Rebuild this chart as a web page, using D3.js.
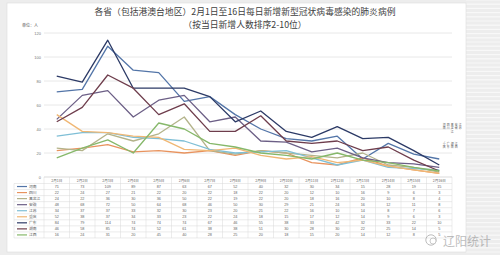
<!DOCTYPE html>
<html><head><meta charset="utf-8">
<script src="https://cdn.jsdelivr.net/npm/d3@7/dist/d3.min.js"></script>
<style>body{margin:0;background:#fff}svg{display:block}</style>
</head><body>
<script>
// ---- data ----
const dates = ["2月1日","2月2日","2月3日","2月4日","2月5日","2月6日","2月7日","2月8日","2月9日","2月10日","2月11日","2月12日","2月13日","2月14日","2月15日","2月16日"];
const seriesNames = ["河南","四川","黑龙江","安徽","江苏","重庆","广东","湖南","江西"];
const henan   = [71,73,109,89,87,63,67,52,40,32,30,34,15,28,19,15];
const sichuan = [22,24,27,21,22,20,22,18,22,20,12,10,16,9,6,3];
const hlj     = [24,22,36,30,36,50,22,19,22,20,18,16,20,10,8,4];
const anhui   = [48,68,72,50,64,68,46,50,30,29,21,24,16,12,11,8];
const jiangsu = [34,37,37,33,32,30,23,20,21,22,16,10,14,8,7,6];
const chongq  = [52,38,37,34,33,23,22,24,18,15,17,12,14,9,6,3];
const guangd  = [84,79,114,74,74,74,67,46,55,38,33,42,32,33,22,10];
const hunan   = [46,58,85,74,52,61,38,38,51,30,28,30,22,25,14,5];
const jiangxi = [16,24,31,20,45,40,28,25,20,18,15,20,14,12,8,5];
const seriesValues = [henan,sichuan,hlj,anhui,jiangsu,chongq,guangd,hunan,jiangxi];
const seriesColors = ["#5375a8","#e8935e","#b3b38a","#6c5f86","#7fbfd6","#f0b774","#2c3a66","#6e3d4c","#86b86a"];
const yTicks = [0,20,40,60,80,100,120];
const titleLines = ["各省（包括港澳台地区）2月1日至16日每日新增新型冠状病毒感染的肺炎病例","（按当日新增人数排序2-10位）"];
const unitLabel = "单位：人";
const watermark = "辽阳统计";

// ---- drawing ----
const W=500,H=255;
const svg=d3.select("body").append("svg").attr("width",W).attr("height",H);
svg.append("rect").attr("width",W).attr("height",H).attr("fill","#ededed");
const stripes=d3.range(0,H,4.2);
svg.selectAll("line.strip").data(stripes).enter().append("line")
  .attr("x1",466).attr("x2",W).attr("y1",d=>d).attr("y2",d=>d)
  .attr("stroke","#f8f8f8").attr("stroke-width",1.2);
svg.append("rect").attr("x",7).attr("y",3).attr("width",459).attr("height",249)
  .attr("fill","#fff").attr("stroke","#dcdcdc").attr("stroke-width",0.6);

const x=d3.scaleBand().domain(dates).range([44,452]);
const bw=x.bandwidth();
const cx=d=>x(d)+bw/2;
const y=d3.scaleLinear().domain([0,120]).range([177,33]);

// title
svg.selectAll("text.title").data(titleLines).enter().append("text")
  .attr("x",245).attr("y",(d,i)=>15+i*12.5).attr("text-anchor","middle")
  .attr("font-family","Noto Sans CJK SC").attr("font-size",8.8).attr("fill","#404040")
  .text(d=>d);
svg.append("text").attr("x",22).attr("y",26.5).attr("font-family","Noto Sans CJK SC")
  .attr("font-size",4).attr("fill","#555").text(unitLabel);

// grid + y axis
svg.append("g").selectAll("line").data(yTicks).enter().append("line")
  .attr("x1",44).attr("x2",452).attr("y1",d=>y(d)).attr("y2",d=>y(d))
  .attr("stroke","#e2e2e2").attr("stroke-width",0.8);
const yAxis=svg.append("g").attr("transform","translate(41,0)")
  .call(d3.axisLeft(y).tickValues(yTicks).tickSize(0).tickPadding(0));
yAxis.select(".domain").remove();
yAxis.selectAll("text").attr("font-size",4).attr("fill","#777").attr("font-family","Liberation Sans");

// lines
const line=d3.line().x((d,i)=>cx(dates[i])).y(d=>y(d));
svg.append("g").selectAll("path").data(seriesValues).enter().append("path")
  .attr("d",d=>line(d)).attr("fill","none")
  .attr("stroke",(d,i)=>seriesColors[i]).attr("stroke-width",1.3)
  .attr("stroke-linejoin","round");

// end labels (vertical, one character per line)
const lastX=cx(dates[dates.length-1]);
const lab=svg.append("g").selectAll("text").data(seriesNames).enter().append("text")
  .attr("font-family","Noto Sans CJK SC").attr("font-size",2.9).attr("fill","#555")
  .attr("text-anchor","middle");
lab.each(function(name,i){
  const t=d3.select(this);
  const tx=lastX+5+(i%5)*4, ty=126+Math.floor(i/5)*19;
  name.split("").forEach((ch,k)=>{
    t.append("tspan").attr("x",tx).attr("y",ty+k*3.3).text(ch);
  });
});

// data table
const tTop=177, hH=6.5, rH=6.05, tLeft=14;
const tBottom=tTop+hH+rH*seriesNames.length;
const tg=svg.append("g");
const hLines=[tTop,tTop+hH].concat(d3.range(1,seriesNames.length+1).map(i=>tTop+hH+rH*i));
tg.selectAll("line.h").data(hLines).enter().append("line")
  .attr("x1",(d,i)=>i==0?44:tLeft).attr("x2",452).attr("y1",d=>d).attr("y2",d=>d)
  .attr("stroke","#d9d9d9").attr("stroke-width",0.5);
const vLines=dates.map(d=>x(d)).concat([452]);
tg.selectAll("line.v").data(vLines).enter().append("line")
  .attr("x1",d=>d).attr("x2",d=>d).attr("y1",tTop).attr("y2",tBottom)
  .attr("stroke","#d9d9d9").attr("stroke-width",0.5);
tg.append("line").attr("x1",tLeft).attr("x2",tLeft).attr("y1",tTop+hH).attr("y2",tBottom)
  .attr("stroke","#d9d9d9").attr("stroke-width",0.5);
tg.selectAll("text.hd").data(dates).enter().append("text")
  .attr("x",d=>cx(d)).attr("y",tTop+4.6).attr("text-anchor","middle")
  .attr("font-family","Noto Sans CJK SC").attr("font-size",3.6).attr("fill","#666").text(d=>d);
seriesNames.forEach((name,i)=>{
  const ry=tTop+hH+rH*i+rH/2;
  tg.append("line").attr("x1",tLeft+3).attr("x2",tLeft+13).attr("y1",ry).attr("y2",ry)
    .attr("stroke",seriesColors[i]).attr("stroke-width",1.2);
  tg.append("text").attr("x",tLeft+15).attr("y",ry+1.4).attr("font-family","Noto Sans CJK SC")
    .attr("font-size",3.8).attr("fill","#555").text(name);
  tg.selectAll(null).data(seriesValues[i]).enter().append("text")
    .attr("x",(d,j)=>cx(dates[j])).attr("y",ry+1.4).attr("text-anchor","middle")
    .attr("font-family","Liberation Sans").attr("font-size",3.8).attr("fill","#666").text(d=>d);
});

// watermark
const wm=svg.append("g").attr("opacity",0.55);
wm.append("circle").attr("cx",431).attr("cy",240).attr("r",5.2).attr("fill","none").attr("stroke","#888").attr("stroke-width",1);
wm.append("circle").attr("cx",433).attr("cy",241).attr("r",3).attr("fill","#fff").attr("stroke","#888").attr("stroke-width",0.8);
wm.append("text").attr("x",443).attr("y",246).attr("font-family","Noto Sans CJK SC")
  .attr("font-size",12).attr("fill","#888").text(watermark);
</script>
</body></html>
